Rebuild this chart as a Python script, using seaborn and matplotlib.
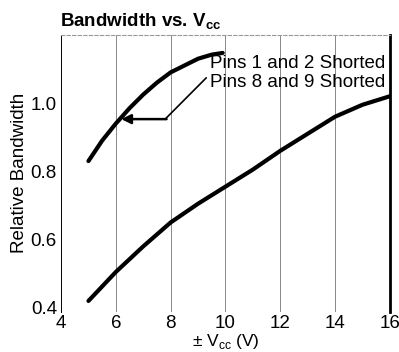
import matplotlib
matplotlib.use("Agg")
import matplotlib.pyplot as plt
import seaborn as sns
import pandas as pd

# Data
vcc_pins12 = [5.0, 5.5, 6.0, 6.5, 7.0, 7.5, 8.0, 8.5, 9.0, 9.5, 9.9]
bw_pins12 = [0.83, 0.89, 0.94, 0.985, 1.025, 1.06, 1.09, 1.11, 1.13, 1.142, 1.147]
vcc_pins89 = [5.0, 6.0, 7.0, 8.0, 9.0, 10.0, 11.0, 12.0, 13.0, 14.0, 15.0, 16.0]
bw_pins89 = [0.42, 0.505, 0.58, 0.65, 0.705, 0.755, 0.805, 0.86, 0.91, 0.96, 0.995, 1.02]
x_ticks = [4, 6, 8, 10, 12, 14, 16]
y_ticks = [0.4, 0.6, 0.8, 1.0]
labels = ["Pins 1 and 2 Shorted", "Pins 8 and 9 Shorted"]

sns.set_style("white")
plt.rcParams['font.family'] = ['Liberation Sans', 'DejaVu Sans']
plt.rcParams['mathtext.fontset'] = 'custom'
plt.rcParams['mathtext.rm'] = 'Liberation Sans'
plt.rcParams['mathtext.bf'] = 'Liberation Sans:bold'
for k in ['text.color', 'axes.labelcolor', 'xtick.color', 'ytick.color']:
    plt.rcParams[k] = 'black'

df = pd.concat([
    pd.DataFrame({"vcc": vcc_pins12, "bw": bw_pins12, "s": labels[0]}),
    pd.DataFrame({"vcc": vcc_pins89, "bw": bw_pins89, "s": labels[1]}),
])

fig = plt.figure(figsize=(3.99, 3.52), dpi=100)
ax = fig.add_axes([0.153, 0.114, 0.824, 0.787])
sns.lineplot(data=df, x="vcc", y="bw", units="s", estimator=None, color="black",
             linewidth=3, ax=ax, legend=False, sort=True)

ax.set_xlim(4, 16)
ax.set_ylim(0.388, 1.2)
ax.set_xticks(x_ticks)
ax.set_yticks(y_ticks)
ax.set_xticklabels([str(t) for t in x_ticks])
ax.set_yticklabels([f"{t:.1f}" for t in y_ticks])
ax.tick_params(axis='y', length=0, labelsize=13.5, pad=3)
ax.tick_params(axis='x', length=0, labelsize=13.5, pad=2)
for xv in x_ticks[1:-1]:
    ax.axvline(xv, color="#888888", linewidth=0.7, zorder=0)

ax.spines['bottom'].set_visible(False)
ax.spines['top'].set_color("#999999")
ax.spines['top'].set_linestyle((0, (3, 2)))
ax.spines['top'].set_linewidth(0.8)
ax.spines['left'].set_color("black")
ax.spines['left'].set_linewidth(0.7)
ax.spines['right'].set_color("black")
ax.spines['right'].set_linewidth(2.0)

ax.set_xlabel(r"± V$_{\rm cc}$ (V)", fontsize=12.5, labelpad=0)
ax.set_ylabel("Relative Bandwidth", fontsize=13.5, labelpad=2)
fig.text(0.15, 0.925, r"Bandwidth vs. V$_{\mathbf{cc}}$", fontsize=13.5, fontweight="bold")

ax.text(9.45, 1.115, labels[0], fontsize=13.5, va="center", ha="left")
ax.text(9.45, 1.059, labels[1], fontsize=13.5, va="center", ha="left")

# leader line + arrow
ax.plot([9.3, 7.8], [1.074, 0.953], color="black", linewidth=1.2)
ax.annotate("", xy=(6.2, 0.953), xytext=(7.85, 0.953),
            arrowprops=dict(arrowstyle="-|>", color="black", lw=1.8, mutation_scale=14,
                            shrinkA=0, shrinkB=0))

fig.savefig("out.png", dpi=100)
